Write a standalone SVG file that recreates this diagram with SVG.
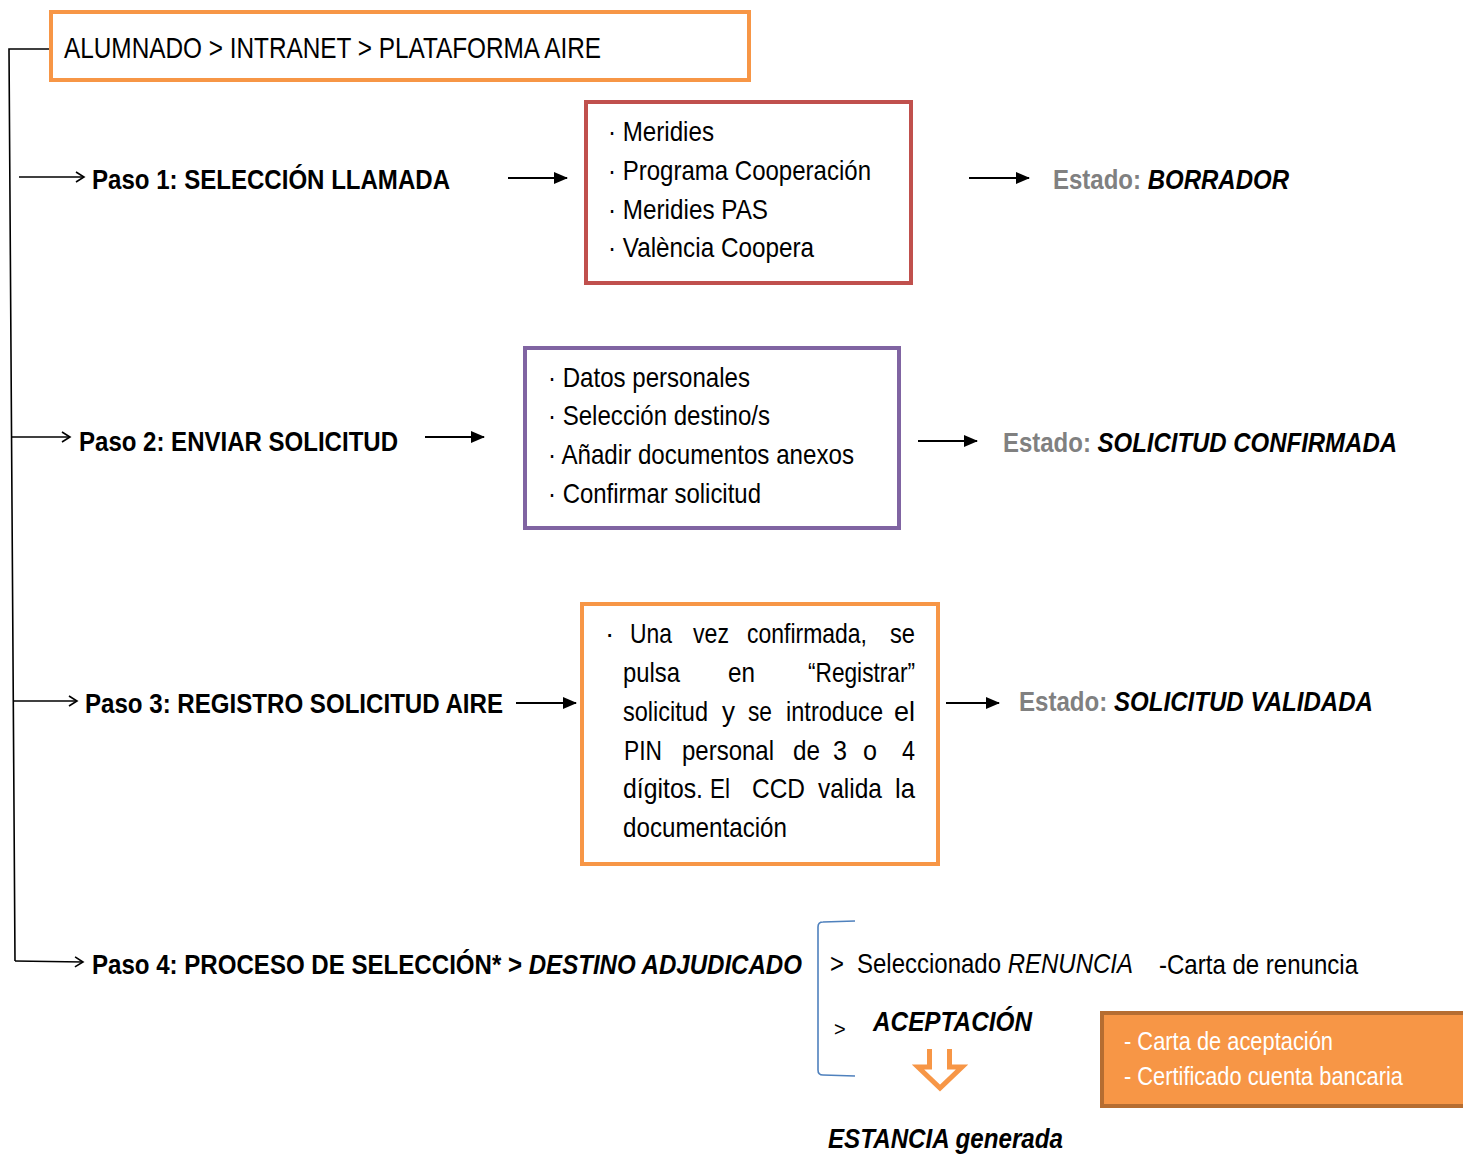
<svg xmlns="http://www.w3.org/2000/svg" width="1463" height="1154" viewBox="0 0 1463 1154">
<defs>
<marker id="fill" markerWidth="14" markerHeight="12" refX="13" refY="6" orient="auto" markerUnits="userSpaceOnUse">
<path d="M0,0 L14,6 L0,12 Z" fill="#000"/>
</marker>
<marker id="open" markerWidth="12" markerHeight="14" refX="10" refY="7" orient="auto" markerUnits="userSpaceOnUse">
<path d="M2,2 L10,7 L2,12" fill="none" stroke="#000" stroke-width="1.6"/>
</marker>
</defs>
<style>
text{font-family:"Liberation Sans Narrow","Arial Narrow","Liberation Sans",Arial,sans-serif;fill:#000}
.t{font-size:28px}
.b{font-size:27px;font-weight:bold}
.bi{font-weight:bold;font-style:italic}
.g{fill:#808080;font-weight:bold}
.i{font-style:italic}
.w{fill:#fff;font-size:25px}
.thin{stroke:#000;stroke-width:1.6;fill:none}
.thick{stroke:#000;stroke-width:2.2;fill:none}
</style>
<rect width="1463" height="1154" fill="#fff"/>

<g id="connectors">
<polyline class="thin" points="50,49 9,49 15,961"/>
<line class="thin" x1="19" y1="177" x2="84" y2="177" marker-end="url(#open)"/>
<line class="thin" x1="12" y1="437" x2="70" y2="437" marker-end="url(#open)"/>
<line class="thin" x1="14" y1="701" x2="77" y2="701" marker-end="url(#open)"/>
<line class="thin" x1="15" y1="961" x2="83" y2="962" marker-end="url(#open)"/>
<line class="thick" x1="508" y1="178" x2="567" y2="178" marker-end="url(#fill)"/>
<line class="thick" x1="425" y1="437" x2="484" y2="437" marker-end="url(#fill)"/>
<line class="thick" x1="516" y1="703" x2="576" y2="703" marker-end="url(#fill)"/>
<line class="thick" x1="969" y1="178" x2="1029" y2="178" marker-end="url(#fill)"/>
<line class="thick" x1="918" y1="441" x2="977" y2="441" marker-end="url(#fill)"/>
<line class="thick" x1="946" y1="703" x2="999" y2="703" marker-end="url(#fill)"/>
<path d="M855,921 L823,922 Q818,922 818,927 L818,1070 Q818,1075 823,1075 L855,1076" fill="none" stroke="#4F81BD" stroke-width="1.6"/>
<path d="M929.5,1049 V1067 H918 L940,1088 L962,1067 H949.5 V1049" fill="#fff" stroke="#F79646" stroke-width="5"/>
</g>

<g id="top">
<rect x="51" y="12" width="698" height="68" fill="#fff" stroke="#F79646" stroke-width="4"/>
<text x="64" y="58" font-size="29" textLength="537" lengthAdjust="spacingAndGlyphs">ALUMNADO &gt; INTRANET &gt; PLATAFORMA AIRE</text>
</g>

<g id="paso1">
<text class="b" x="92" y="189" textLength="358" lengthAdjust="spacingAndGlyphs">Paso 1: SELECCIÓN LLAMADA</text>
</g>
<g id="box1">
<rect x="586" y="102" width="325" height="181" fill="#fff" stroke="#C0504D" stroke-width="4"/>
<text class="t" x="608" y="141" textLength="106" lengthAdjust="spacingAndGlyphs">· Meridies</text>
<text class="t" x="608" y="180" textLength="263" lengthAdjust="spacingAndGlyphs">· Programa Cooperación</text>
<text class="t" x="608" y="219" textLength="160" lengthAdjust="spacingAndGlyphs">· Meridies PAS</text>
<text class="t" x="608" y="257" textLength="206" lengthAdjust="spacingAndGlyphs">· València Coopera</text>
</g>
<g id="estado1">
<text x="1053" y="189" font-size="27" textLength="236" lengthAdjust="spacingAndGlyphs"><tspan class="g">Estado: </tspan><tspan class="bi">BORRADOR</tspan></text>
</g>

<g id="paso2">
<text class="b" x="79" y="451" textLength="319" lengthAdjust="spacingAndGlyphs">Paso 2: ENVIAR SOLICITUD</text>
</g>
<g id="box2">
<rect x="525" y="348" width="374" height="180" fill="#fff" stroke="#8064A2" stroke-width="4"/>
<text class="t" x="548" y="387" textLength="202" lengthAdjust="spacingAndGlyphs">· Datos personales</text>
<text class="t" x="548" y="425" textLength="222" lengthAdjust="spacingAndGlyphs">· Selección destino/s</text>
<text class="t" x="548" y="464" textLength="306" lengthAdjust="spacingAndGlyphs">· Añadir documentos anexos</text>
<text class="t" x="548" y="503" textLength="213" lengthAdjust="spacingAndGlyphs">· Confirmar solicitud</text>
</g>
<g id="estado2">
<text x="1003" y="452" font-size="27" textLength="394" lengthAdjust="spacingAndGlyphs"><tspan class="g">Estado: </tspan><tspan class="bi">SOLICITUD CONFIRMADA</tspan></text>
</g>

<g id="paso3">
<text class="b" x="85" y="713" textLength="418" lengthAdjust="spacingAndGlyphs">Paso 3: REGISTRO SOLICITUD AIRE</text>
</g>
<g id="box3">
<rect x="582" y="604" width="356" height="260" fill="#fff" stroke="#F79646" stroke-width="4"/>
<text class="t" x="605" y="643">·</text>
<text class="t" x="630" y="643" textLength="42" lengthAdjust="spacingAndGlyphs">Una</text>
<text class="t" x="693" y="643" textLength="36" lengthAdjust="spacingAndGlyphs">vez</text>
<text class="t" x="747" y="643" textLength="120" lengthAdjust="spacingAndGlyphs">confirmada,</text>
<text class="t" x="890" y="643" textLength="25" lengthAdjust="spacingAndGlyphs">se</text>
<text class="t" x="623" y="682" textLength="57" lengthAdjust="spacingAndGlyphs">pulsa</text>
<text class="t" x="728" y="682" textLength="27" lengthAdjust="spacingAndGlyphs">en</text>
<text class="t" x="808" y="682" textLength="107" lengthAdjust="spacingAndGlyphs">“Registrar”</text>
<text class="t" x="623" y="721" textLength="85" lengthAdjust="spacingAndGlyphs">solicitud</text>
<text class="t" x="722" y="721" textLength="13" lengthAdjust="spacingAndGlyphs">y</text>
<text class="t" x="748" y="721" textLength="24" lengthAdjust="spacingAndGlyphs">se</text>
<text class="t" x="786" y="721" textLength="97" lengthAdjust="spacingAndGlyphs">introduce</text>
<text class="t" x="894" y="721" textLength="21" lengthAdjust="spacingAndGlyphs">el</text>
<text class="t" x="624" y="760" textLength="38" lengthAdjust="spacingAndGlyphs">PIN</text>
<text class="t" x="682" y="760" textLength="92" lengthAdjust="spacingAndGlyphs">personal</text>
<text class="t" x="793" y="760" textLength="27" lengthAdjust="spacingAndGlyphs">de</text>
<text class="t" x="833" y="760" textLength="14" lengthAdjust="spacingAndGlyphs">3</text>
<text class="t" x="863" y="760" textLength="14" lengthAdjust="spacingAndGlyphs">o</text>
<text class="t" x="902" y="760" textLength="13" lengthAdjust="spacingAndGlyphs">4</text>
<text class="t" x="623" y="798" textLength="80" lengthAdjust="spacingAndGlyphs">dígitos.</text>
<text class="t" x="710" y="798" textLength="20" lengthAdjust="spacingAndGlyphs">El</text>
<text class="t" x="752" y="798" textLength="53" lengthAdjust="spacingAndGlyphs">CCD</text>
<text class="t" x="818" y="798" textLength="64" lengthAdjust="spacingAndGlyphs">valida</text>
<text class="t" x="895" y="798" textLength="20" lengthAdjust="spacingAndGlyphs">la</text>
<text class="t" x="623" y="837" textLength="164" lengthAdjust="spacingAndGlyphs">documentación</text>
</g>
<g id="estado3">
<text x="1019" y="711" font-size="27" textLength="354" lengthAdjust="spacingAndGlyphs"><tspan class="g">Estado: </tspan><tspan class="bi">SOLICITUD VALIDADA</tspan></text>
</g>

<g id="paso4">
<text class="b" x="92" y="974" textLength="710" lengthAdjust="spacingAndGlyphs">Paso 4: PROCESO DE SELECCIÓN* &gt; <tspan class="i">DESTINO ADJUDICADO</tspan></text>
</g>
<g id="renuncia">
<text class="t" x="830" y="973" textLength="14" lengthAdjust="spacingAndGlyphs">&gt;</text>
<text class="t" x="857" y="973" textLength="276" lengthAdjust="spacingAndGlyphs">Seleccionado <tspan class="i">RENUNCIA</tspan></text>
<text class="t" x="1159" y="974" textLength="199" lengthAdjust="spacingAndGlyphs">-Carta de renuncia</text>
</g>
<g id="aceptacion">
<text x="834" y="1036" font-size="20">&gt;</text>
<text class="bi" x="873" y="1031" font-size="27" textLength="159" lengthAdjust="spacingAndGlyphs">ACEPTACIÓN</text>
</g>
<g id="docs">
<rect x="1102" y="1013" width="370" height="93" fill="#F79646" stroke="#B66D31" stroke-width="4"/>
<text class="w" x="1124" y="1050" textLength="209" lengthAdjust="spacingAndGlyphs">- Carta de aceptación</text>
<text class="w" x="1124" y="1085" textLength="279" lengthAdjust="spacingAndGlyphs">- Certificado cuenta bancaria</text>
</g>
<g id="estancia">
<text class="bi" x="828" y="1148" font-size="27" textLength="235" lengthAdjust="spacingAndGlyphs">ESTANCIA generada</text>
</g>
</svg>
